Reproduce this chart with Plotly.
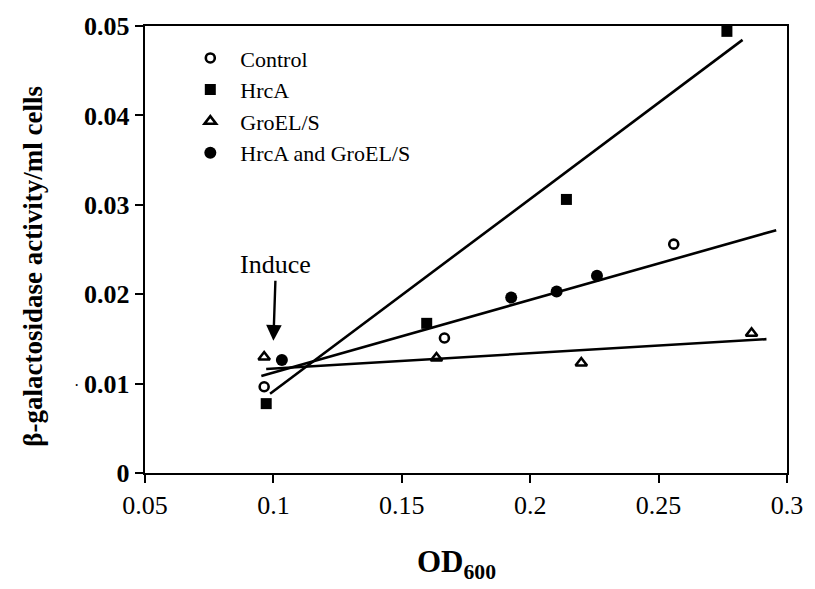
import plotly.graph_objects as go

# Measured beta-galactosidase activity vs culture density
control_od = [0.0964, 0.1666, 0.2559]
control_act = [0.00965, 0.0151, 0.0256]

hrca_od = [0.0972, 0.1597, 0.2141, 0.2766]
hrca_act = [0.00776, 0.01674, 0.0306, 0.0494]

groel_od = [0.0964, 0.1635, 0.2199, 0.2862]
groel_act = [0.01297, 0.01286, 0.0123, 0.01563]

both_od = [0.1033, 0.1926, 0.2103, 0.2260]
both_act = [0.01264, 0.01962, 0.0203, 0.02206]

# Straight trend lines (start and end points)
steep_od = [0.0987, 0.2827]
steep_act = [0.00887, 0.04845]
mid_od = [0.0953, 0.2958]
mid_act = [0.01086, 0.02716]
flat_od = [0.0972, 0.2920]
flat_act = [0.01164, 0.01497]

x_ticks = [0.05, 0.1, 0.15, 0.2, 0.25, 0.3]
x_tick_text = ["0.05", "0.1", "0.15", "0.2", "0.25", "0.3"]
y_ticks = [0, 0.01, 0.02, 0.03, 0.04, 0.05]
y_tick_text = ["0", "0.01", "0.02", "0.03", "0.04", "0.05"]

induce_od = 0.1
induce_act = 0.0148

SERIF = "Liberation Serif, Times New Roman, serif"

fig = go.Figure()

for xs, ys in [(steep_od, steep_act), (mid_od, mid_act), (flat_od, flat_act)]:
    fig.add_trace(go.Scatter(x=xs, y=ys, mode="lines",
                             line=dict(color="black", width=2.6),
                             showlegend=False, hoverinfo="skip"))

fig.add_trace(go.Scatter(x=control_od, y=control_act, mode="markers", name="Control",
                         marker=dict(symbol="circle-open", size=9, color="black",
                                     line=dict(width=2.6, color="black"))))
fig.add_trace(go.Scatter(x=hrca_od, y=hrca_act, mode="markers", name="HrcA",
                         marker=dict(symbol="square", size=11, color="black")))
fig.add_trace(go.Scatter(x=groel_od, y=groel_act, mode="markers", name="GroEL/S",
                         marker=dict(symbol="triangle-up-open", size=10, color="black",
                                     line=dict(width=2.6, color="black"))))
fig.add_trace(go.Scatter(x=both_od, y=both_act, mode="markers", name="HrcA and GroEL/S",
                         marker=dict(symbol="circle", size=12, color="black")))

fig.add_annotation(x=induce_od, y=induce_act, xref="x", yref="y",
                   text="Induce", showarrow=True,
                   arrowhead=2, arrowsize=1.3, arrowwidth=2.4, arrowcolor="black",
                   ax=2, ay=-60, yanchor="bottom",
                   font=dict(family=SERIF, size=26, color="black"))

# axis titles
fig.add_annotation(x=0.485, y=-0.204, xref="paper", yref="paper", showarrow=False,
                   xanchor="center", yanchor="middle",
                   text="<b>OD<sub>600</sub></b>",
                   font=dict(family=SERIF, size=31, color="black"))
fig.add_annotation(x=-0.175, y=0.463, xref="paper", yref="paper", showarrow=False,
                   xanchor="center", yanchor="middle", textangle=-90,
                   text="<b>β-galactosidase activity/ml cells</b>",
                   font=dict(family=SERIF, size=27, color="black"))

# small stray mark left of the 0.01 label
fig.add_annotation(x=-0.107, y=0.0098, xref="paper", yref="y", showarrow=False,
                   xanchor="center", yanchor="middle", text="·",
                   font=dict(family=SERIF, size=16, color="black"))

axis_common = dict(showline=True, linecolor="black", linewidth=2.4, mirror=True,
                   ticks="outside", ticklen=8, tickwidth=2, tickcolor="black",
                   showgrid=False, zeroline=False)

fig.update_xaxes(range=[0.05, 0.3], tickvals=x_ticks, ticktext=x_tick_text,
                 tickfont=dict(family=SERIF, size=26, color="black"),
                 **axis_common)
fig.update_yaxes(range=[0, 0.05], tickvals=y_ticks,
                 ticktext=[f"<b>{t}</b>" for t in y_tick_text],
                 tickfont=dict(family=SERIF, size=26, color="black"),
                 **axis_common)

fig.update_layout(
    width=815, height=589,
    margin=dict(l=145, r=17, t=21, b=116),
    plot_bgcolor="white", paper_bgcolor="white",
    showlegend=True,
    legend=dict(x=0.055, y=0.975, xanchor="left", yanchor="top",
                itemwidth=50, bgcolor="rgba(0,0,0,0)",
                font=dict(family=SERIF, size=22, color="black")),
)

fig.write_html("out.html")
